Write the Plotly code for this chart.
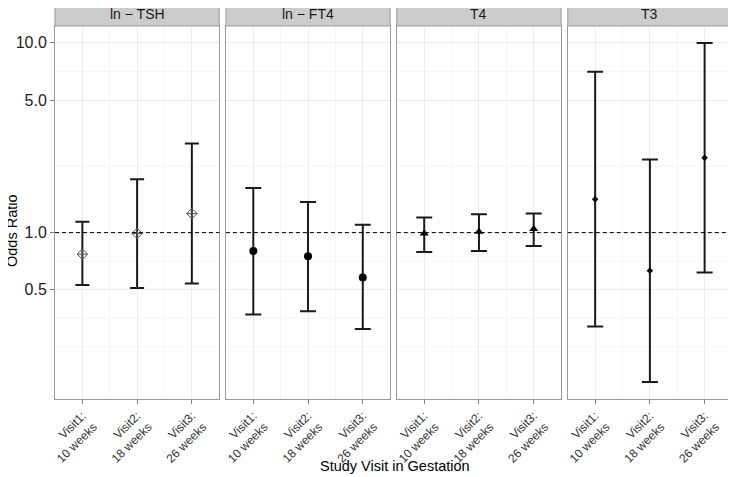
import numpy as np
import plotly.graph_objects as go
from plotly.subplots import make_subplots

# facets and visits
panels = ["ln \u2212 TSH", "ln \u2212 FT4", "T4", "T3"]
visits = ["Visit1:<br>10 weeks", "Visit2:<br>18 weeks", "Visit3:<br>26 weeks"]
visit_pos = [1, 2, 3]

# odds ratios with 95% CI
tsh_or = [0.77, 0.99, 1.26]
tsh_lo = [0.53, 0.51, 0.54]
tsh_hi = [1.14, 1.91, 2.95]

ft4_or = [0.80, 0.75, 0.58]
ft4_lo = [0.37, 0.385, 0.31]
ft4_hi = [1.72, 1.45, 1.10]

t4_or = [0.99, 1.01, 1.045]
t4_lo = [0.79, 0.80, 0.85]
t4_hi = [1.20, 1.25, 1.26]

t3_or = [1.50, 0.63, 2.48]
t3_lo = [0.32, 0.163, 0.616]
t3_hi = [7.04, 2.43, 10.0]

y_ticks = [0.5, 1.0, 5.0, 10.0]
y_ticktext = ["0.5", "1.0", "5.0", "10.0"]

series = [
    (tsh_or, tsh_lo, tsh_hi, dict(symbol="diamond-cross-open", size=8, color="#555555", line=dict(width=1, color="#555555")), 7),
    (ft4_or, ft4_lo, ft4_hi, dict(symbol="circle", size=8, color="black"), 8),
    (t4_or, t4_lo, t4_hi, dict(symbol="triangle-up", size=8, color="black"), 8),
    (t3_or, t3_lo, t3_hi, dict(symbol="diamond", size=5, color="black"), 8),
]

# page body has an 8px margin, so the figure is placed 8px in
W, H = 728, 469
ml, mr, mt, mb = 47, 4, 18, 78
pw = W - ml - mr
ph = H - mt - mb
left_px, bottom_px = 55, 399  # plot area edges in window pixels

fig = make_subplots(rows=1, cols=4, shared_yaxes=True, horizontal_spacing=6.7 / pw)

# minor grid like ggplot's log scale (geometric midpoints between breaks)
log_breaks = np.log10([0.25, 0.5, 1.0, 5.0, 10.0])
minor_y = list(10 ** ((log_breaks[:-1] + log_breaks[1:]) / 2)) + [0.25]

for i, (orr, lo, hi, mk, cap) in enumerate(series):
    orr = np.array(orr)
    fig.add_trace(go.Scatter(
        x=visit_pos, y=orr, mode="markers", marker=mk,
        error_y=dict(type="data", symmetric=False,
                     array=np.array(hi) - orr, arrayminus=orr - np.array(lo),
                     color="#1a1a1a", thickness=2, width=cap),
        showlegend=False, hoverinfo="skip"), row=1, col=i + 1)
    fig.add_shape(type="line", xref="x%s domain" % ("" if i == 0 else i + 1),
                  yref="y%s" % ("" if i == 0 else i + 1),
                  x0=0, x1=1, y0=1, y1=1, line=dict(color="black", width=1, dash="4px,3px"))

for i in range(4):
    fig.update_xaxes(row=1, col=i + 1, range=[0.5, 3.5], tickvals=visit_pos, ticktext=visits,
                     tickangle=-45, tickfont=dict(size=12, color="#333333"),
                     ticks="outside", ticklen=4, tickcolor="#7f7f7f",
                     showgrid=True, gridcolor="#ececec", gridwidth=1,
                     minor=dict(tickvals=[1.5, 2.5], showgrid=True, gridcolor="#f6f6f6", ticks=""),
                     showline=True, mirror=True, linecolor="#9a9a9a", linewidth=1, zeroline=False)
    fig.update_yaxes(row=1, col=i + 1, type="log", range=[-0.877, 1.089],
                     tickvals=y_ticks, ticktext=y_ticktext,
                     tickfont=dict(size=16, color="#222222"),
                     ticks="outside" if i == 0 else "", ticklen=4, tickcolor="#7f7f7f",
                     showgrid=True, gridcolor="#ececec", gridwidth=1,
                     minor=dict(tickvals=minor_y, showgrid=True, gridcolor="#f6f6f6", ticks=""),
                     showline=True, mirror=True, linecolor="#9a9a9a", linewidth=1, zeroline=False)

# strips
strip_h = 24 / ph
for i, name in enumerate(panels):
    dom = fig.layout["xaxis%s" % ("" if i == 0 else i + 1)].domain
    fig.add_shape(type="rect", xref="paper", yref="paper", x0=dom[0], x1=dom[1],
                  y0=1, y1=1 + strip_h, fillcolor="#cccccc", line=dict(color="#9a9a9a", width=1))
    fig.add_annotation(text=name, xref="paper", yref="paper", x=(dom[0] + dom[1]) / 2,
                       y=1 + strip_h / 2, showarrow=False, font=dict(size=14, color="#1a1a1a"),
                       xanchor="center", yanchor="middle")

fig.add_annotation(text="Odds Ratio", xref="paper", yref="paper", x=(12 - left_px) / pw,
                   y=(bottom_px - 231) / ph, textangle=-90, showarrow=False,
                   font=dict(size=14.5, color="black"), xanchor="center", yanchor="middle")
fig.add_annotation(text="Study Visit in Gestation", xref="paper", yref="paper",
                   x=(395 - left_px) / pw, y=(bottom_px - 466) / ph, showarrow=False,
                   font=dict(size=14.5, color="black"), xanchor="center", yanchor="middle")

fig.update_layout(width=W, height=H, margin=dict(l=ml, r=mr, t=mt, b=mb),
                  plot_bgcolor="white", paper_bgcolor="white",
                  font=dict(family="Liberation Sans, Arial, sans-serif"))

fig.write_html("out.html")
